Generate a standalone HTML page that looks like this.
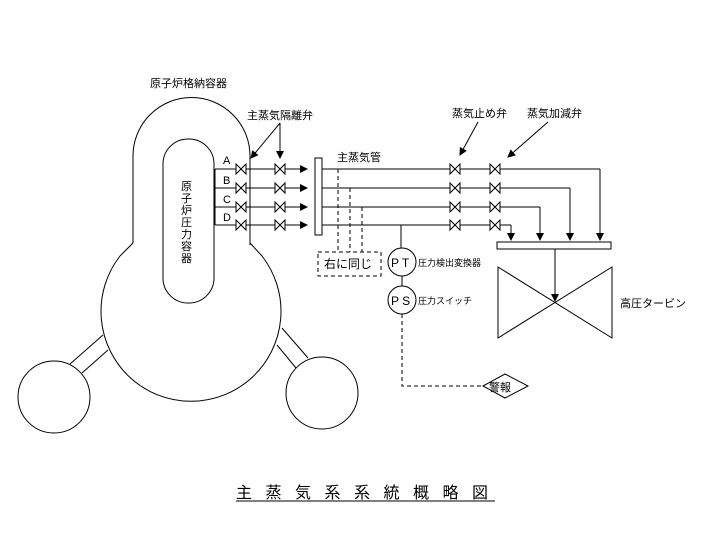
<!DOCTYPE html>
<html><head><meta charset="utf-8"><style>
html,body{margin:0;padding:0;background:#fff;}
svg{display:block;}
text{font-family:"Liberation Sans","Noto Sans CJK JP",sans-serif;fill:#000;}
</style></head><body>
<svg width="720" height="540" viewBox="0 0 720 540" xmlns="http://www.w3.org/2000/svg">
<defs>
<marker id="ar" markerWidth="8" markerHeight="8" refX="7" refY="4" orient="auto" markerUnits="userSpaceOnUse">
<path d="M0,0 L8,4 L0,8 z" fill="#000"/></marker>
<g id="v"><path d="M-5,-5 L5,5 L5,-5 L-5,5 Z" fill="#fff" stroke="#000" stroke-width="1"/></g>
</defs>
<g fill="none" stroke="#000" stroke-width="1">
<path d="M133,243 L133,156 A58.5,58.5 0 0 1 250,156 L250,243 L262,256 A90,90 0 1 1 120,256 Z" fill="#fff"/>
<rect x="163" y="139" width="51" height="164" rx="25" ry="25"/>
<circle cx="54" cy="397" r="36"/>
<circle cx="322" cy="393" r="36"/>
<line x1="103" y1="335" x2="70" y2="364"/>
<line x1="108" y1="350" x2="82" y2="373"/>
<line x1="282" y1="328" x2="308" y2="358"/>
<line x1="277" y1="345" x2="296" y2="368"/>
<line x1="215" y1="169" x2="215" y2="225"/>
<line x1="215" y1="169" x2="307" y2="169" marker-end="url(#ar)"/>
<line x1="215" y1="188" x2="307" y2="188" marker-end="url(#ar)"/>
<line x1="215" y1="207" x2="307" y2="207" marker-end="url(#ar)"/>
<line x1="215" y1="225" x2="307" y2="225" marker-end="url(#ar)"/>
<line x1="250" y1="160" x2="250" y2="245"/>
<rect x="315" y="158" width="7" height="77" fill="#fff"/>
<line x1="322" y1="169" x2="600" y2="169"/><line x1="600" y1="169" x2="600" y2="240" marker-end="url(#ar)"/>
<line x1="322" y1="188" x2="570" y2="188"/><line x1="570" y1="188" x2="570" y2="240" marker-end="url(#ar)"/>
<line x1="322" y1="207" x2="540" y2="207"/><line x1="540" y1="207" x2="540" y2="240" marker-end="url(#ar)"/>
<line x1="322" y1="225" x2="511" y2="225"/><line x1="511" y1="225" x2="511" y2="240" marker-end="url(#ar)"/>
<rect x="497" y="242" width="114" height="7" fill="#fff"/>
<path d="M498,267 L612,338 L612,267 L498,338 Z"/>
<line x1="555" y1="249" x2="555" y2="301" marker-end="url(#ar)"/>
<g stroke-dasharray="4,3">
<line x1="338" y1="169" x2="338" y2="252"/>
<line x1="350" y1="188" x2="350" y2="252"/>
<line x1="362" y1="207" x2="362" y2="252"/>
<rect x="318" y="252" width="63" height="24"/>
<polyline points="402,314 402,386 483,386"/>
</g>
<line x1="401" y1="225" x2="401" y2="248"/>
<circle cx="402" cy="262" r="14" fill="#fff"/>
<line x1="402" y1="276" x2="402" y2="286"/>
<circle cx="402" cy="300" r="14" fill="#fff"/>
<path d="M483,386 L505,374 L528,386 L505,398 Z" fill="#fff"/>
<line x1="280" y1="123" x2="251" y2="158" marker-end="url(#ar)"/>
<line x1="280" y1="123" x2="280" y2="158" marker-end="url(#ar)"/>
<line x1="478" y1="122" x2="460" y2="155" marker-end="url(#ar)"/>
<line x1="548" y1="122" x2="508" y2="157" marker-end="url(#ar)"/>
<line x1="236" y1="501" x2="495" y2="501"/>
</g>
<use href="#v" x="241" y="169"/><use href="#v" x="241" y="188"/><use href="#v" x="241" y="207"/><use href="#v" x="241" y="225"/>
<use href="#v" x="280" y="169"/><use href="#v" x="280" y="188"/><use href="#v" x="280" y="207"/><use href="#v" x="280" y="225"/>
<use href="#v" x="455" y="169"/><use href="#v" x="455" y="188"/><use href="#v" x="455" y="207"/><use href="#v" x="455" y="225"/>
<use href="#v" x="495" y="169"/><use href="#v" x="495" y="188"/><use href="#v" x="495" y="207"/><use href="#v" x="495" y="225"/>
<g font-size="11">
<text x="150" y="87">原子炉格納容器</text>
<text x="247" y="119">主蒸気隔離弁</text>
<text x="337" y="161">主蒸気管</text>
<text x="452" y="117">蒸気止め弁</text>
<text x="527" y="117">蒸気加減弁</text>
<text x="223" y="164">A</text><text x="223" y="184">B</text><text x="223" y="203">C</text><text x="223" y="221">D</text>
<text x="324" y="268" font-size="12">右に同じ</text>
<text x="620" y="307">高圧タービン</text>
<text x="489" y="391">警報</text>
<text x="181" y="190" font-size="11">原</text><text x="181" y="202" font-size="11">子</text>
<text x="181" y="214" font-size="11">炉</text><text x="181" y="226" font-size="11">圧</text>
<text x="181" y="238" font-size="11">力</text><text x="181" y="250" font-size="11">容</text>
<text x="181" y="262" font-size="11">器</text>
<text x="391" y="267" font-size="12">P T</text>
<text x="391" y="305" font-size="12">P S</text>
</g>
<text x="418" y="266" font-size="9">圧力検出変換器</text>
<text x="418" y="304" font-size="9">圧力スイッチ</text>
<text x="236" y="498" font-size="16" letter-spacing="13.5">主蒸気系系統概略図</text>
</svg>
</body></html>
